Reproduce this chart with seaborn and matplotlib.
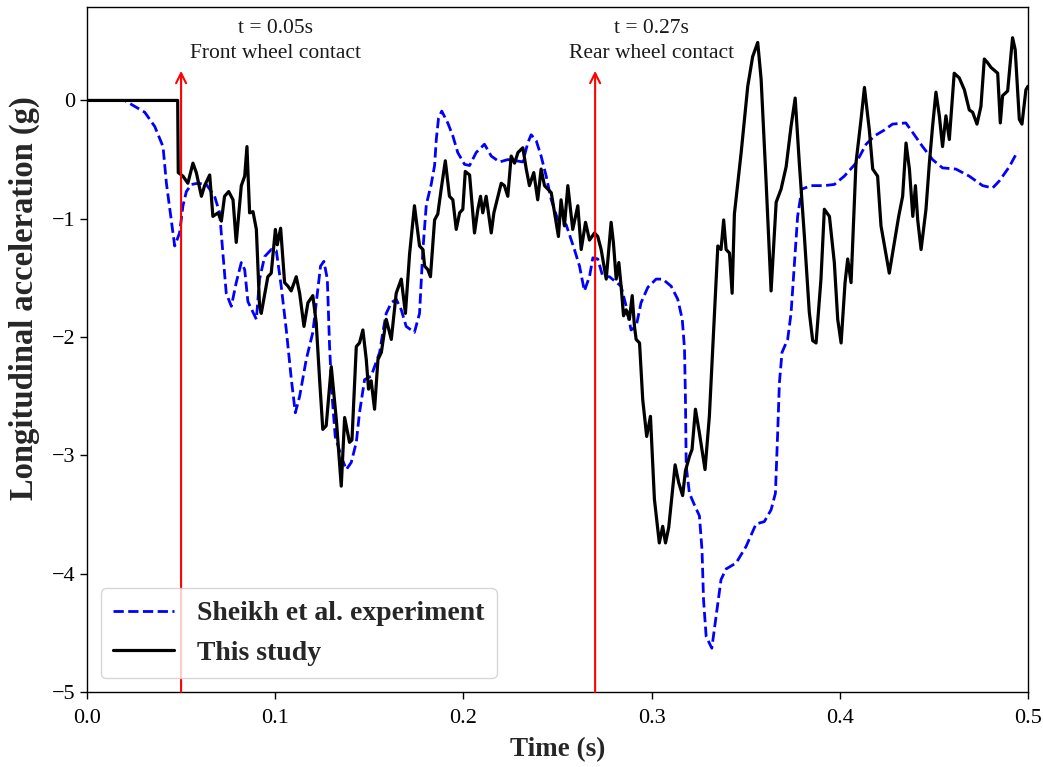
import numpy as np
import pandas as pd
import matplotlib
matplotlib.use("Agg")
import matplotlib.pyplot as plt
import seaborn as sns

# ---- data ----
study_t = [0.0, 0.0482, 0.0485, 0.051, 0.0536, 0.0563, 0.0581, 0.0608, 0.0625, 0.0652,
           0.0669, 0.0696, 0.0714, 0.0731, 0.0753, 0.0776, 0.0793, 0.082, 0.0838, 0.085,
           0.0864, 0.0882, 0.09, 0.0917, 0.0926, 0.0961, 0.0979, 0.1001, 0.1011, 0.1029,
           0.105, 0.1068, 0.1085, 0.1112, 0.113, 0.1153, 0.1174, 0.12, 0.1218, 0.1236,
           0.1253, 0.1271, 0.1298, 0.1325, 0.1351, 0.1369, 0.1395, 0.1408, 0.1431, 0.1448,
           0.1466, 0.1484, 0.1496, 0.151, 0.1528, 0.1546, 0.1564, 0.159, 0.1617, 0.1643,
           0.167, 0.1692, 0.1714, 0.174, 0.1767, 0.1785, 0.1794, 0.1811, 0.1825, 0.1847,
           0.1864, 0.1882, 0.1904, 0.1926, 0.1944, 0.1962, 0.198, 0.1997, 0.201, 0.2033,
           0.2059, 0.2077, 0.2091, 0.2103, 0.2121, 0.2148, 0.2162, 0.2201, 0.2218, 0.2236,
           0.2254, 0.2272, 0.229, 0.2316, 0.2334, 0.2351, 0.2374, 0.2395, 0.2413, 0.2431,
           0.2467, 0.2505, 0.2519, 0.2537, 0.2555, 0.2581, 0.2608, 0.2626, 0.2649, 0.267,
           0.2697, 0.2714, 0.2732, 0.2759, 0.2785, 0.2797, 0.2812, 0.2826, 0.2838, 0.2851,
           0.2865, 0.2882, 0.2897, 0.2909, 0.2918, 0.2936, 0.2953, 0.2974, 0.2994, 0.3015,
           0.3041, 0.3059, 0.3074, 0.3091, 0.3125, 0.3144, 0.3165, 0.318, 0.3201, 0.3215,
           0.3233, 0.3254, 0.3284, 0.3307, 0.3329, 0.3352, 0.3369, 0.3383, 0.3396, 0.3414,
           0.3428, 0.344, 0.3476, 0.3511, 0.3537, 0.3564, 0.3582, 0.3608, 0.3635, 0.3662,
           0.3688, 0.3715, 0.3741, 0.3763, 0.3785, 0.3812, 0.3838, 0.3856, 0.3874, 0.39,
           0.3918, 0.3945, 0.3971, 0.3989, 0.4007, 0.4028, 0.4042, 0.406, 0.4086, 0.4113,
           0.4131, 0.4157, 0.4175, 0.4201, 0.4219, 0.4263, 0.429, 0.4313, 0.4334, 0.4352,
           0.437, 0.4388, 0.4402, 0.4414, 0.4432, 0.4458, 0.4476, 0.4493, 0.4511, 0.4529,
           0.4546, 0.4564, 0.4582, 0.4608, 0.4635, 0.4662, 0.4688, 0.4706, 0.4729, 0.475,
           0.4768, 0.4785, 0.4803, 0.4839, 0.4853, 0.4865, 0.4892, 0.4918, 0.4932, 0.4954,
           0.4968, 0.4989, 0.5]
study_g = [0.0, 0.0, -0.61, -0.64, -0.70, -0.53, -0.61, -0.81, -0.72, -0.63,
           -0.98, -0.95, -1.02, -0.81, -0.77, -0.84, -1.20, -0.72, -0.64, -0.39,
           -0.95, -0.94, -1.09, -1.74, -1.80, -1.49, -1.46, -1.09, -1.22, -1.08,
           -1.54, -1.57, -1.61, -1.49, -1.63, -1.91, -1.71, -1.65, -1.88, -2.36,
           -2.78, -2.75, -2.25, -2.70, -3.26, -2.68, -2.89, -2.87, -2.08, -2.05,
           -1.94, -2.19, -2.44, -2.37, -2.61, -2.19, -2.13, -1.85, -2.02, -1.63,
           -1.51, -1.80, -1.30, -0.89, -1.23, -1.26, -1.40, -1.43, -1.49, -1.01,
           -0.96, -0.75, -0.51, -0.81, -0.84, -1.09, -0.95, -0.92, -0.60, -0.63,
           -1.12, -0.92, -0.81, -0.95, -0.81, -1.12, -0.95, -0.70, -0.72, -0.81,
           -0.47, -0.53, -0.44, -0.40, -0.58, -0.72, -0.61, -0.84, -0.58, -0.72,
           -0.78, -1.15, -0.84, -1.06, -0.72, -1.09, -0.89, -1.26, -1.03, -1.18,
           -1.12, -1.15, -1.26, -1.51, -1.03, -1.20, -1.51, -1.37, -1.57, -1.82,
           -1.77, -1.85, -1.65, -1.91, -2.02, -2.05, -2.53, -2.84, -2.67, -3.37,
           -3.74, -3.60, -3.74, -3.61, -3.08, -3.23, -3.34, -3.13, -3.01, -2.95,
           -2.61, -2.81, -3.12, -2.67, -1.96, -1.23, -1.26, -1.01, -1.26, -1.29,
           -1.63, -0.96, -0.44, 0.12, 0.37, 0.49, 0.18, -0.67, -1.61, -0.86,
           -0.75, -0.56, -0.22, 0.02, -0.53, -1.15, -1.79, -2.03, -2.05, -1.51,
           -0.92, -0.98, -1.37, -1.85, -2.05, -1.54, -1.34, -1.54, -0.53, -0.16,
           0.11, -0.25, -0.58, -0.64, -1.06, -1.46, -1.20, -0.98, -0.81, -0.36,
           -0.58, -0.98, -0.72, -1.01, -1.26, -0.92, -0.53, -0.22, 0.07, -0.13,
           -0.39, -0.13, -0.33, 0.23, 0.19, 0.09, -0.08, -0.10, -0.20, -0.05,
           0.35, 0.32, 0.28, 0.23, -0.19, 0.04, 0.08, 0.53, 0.43, -0.16,
           -0.20, 0.09, 0.12]

exp_t = [0.0, 0.02, 0.0307, 0.036, 0.0404, 0.0422, 0.0445, 0.0466, 0.0492, 0.051,
         0.0528, 0.0555, 0.059, 0.0634, 0.0678, 0.0705, 0.0722, 0.074, 0.0767, 0.0793,
         0.082, 0.0838, 0.0855, 0.09, 0.0917, 0.0944, 0.0979, 0.1006, 0.1032, 0.1059,
         0.1086, 0.1107, 0.113, 0.1165, 0.12, 0.1224, 0.1241, 0.1259, 0.1277, 0.1289,
         0.1301, 0.1319, 0.1351, 0.1378, 0.1404, 0.1431, 0.1448, 0.1475, 0.151, 0.1555,
         0.1572, 0.159, 0.1617, 0.1643, 0.167, 0.1696, 0.174, 0.1767, 0.1785, 0.1803,
         0.1829, 0.1847, 0.1856, 0.1868, 0.1885, 0.1917, 0.1944, 0.197, 0.2006, 0.2033,
         0.2068, 0.2112, 0.2148, 0.2192, 0.2236, 0.2281, 0.2316, 0.2342, 0.236, 0.2387,
         0.2413, 0.244, 0.2467, 0.2502, 0.2546, 0.259, 0.2617, 0.2643, 0.267, 0.2688,
         0.2714, 0.2741, 0.2776, 0.2838, 0.2865, 0.2891, 0.2918, 0.2944, 0.298, 0.3024,
         0.3059, 0.3104, 0.3139, 0.3163, 0.3175, 0.318, 0.3184, 0.3201, 0.3228, 0.3254,
         0.3268, 0.3276, 0.329, 0.332, 0.3343, 0.3369, 0.3396, 0.3449, 0.3502, 0.3555,
         0.3599, 0.3635, 0.3658, 0.367, 0.3679, 0.3693, 0.3723, 0.3741, 0.3759, 0.3776,
         0.3798, 0.3847, 0.3918, 0.3971, 0.4024, 0.4086, 0.414, 0.4184, 0.4237, 0.428,
         0.4351, 0.4387, 0.444, 0.4493, 0.4546, 0.4617, 0.4688, 0.4759, 0.4812, 0.4848,
         0.4901, 0.4945]
exp_g = [0.0, 0.0, -0.10, -0.22, -0.39, -0.70, -0.98, -1.23, -1.12, -0.89,
         -0.77, -0.71, -0.70, -0.71, -0.81, -0.95, -1.29, -1.63, -1.74, -1.54,
         -1.37, -1.43, -1.70, -1.85, -1.51, -1.32, -1.26, -1.27, -1.57, -1.94,
         -2.36, -2.64, -2.50, -2.19, -1.96, -1.63, -1.40, -1.36, -1.51, -2.08,
         -2.47, -2.84, -3.01, -3.12, -3.06, -2.89, -2.64, -2.36, -2.33, -2.13,
         -1.96, -1.80, -1.71, -1.68, -1.77, -1.91, -1.96, -1.80, -1.26, -0.88,
         -0.71, -0.55, -0.33, -0.15, -0.09, -0.19, -0.30, -0.44, -0.54, -0.55,
         -0.44, -0.37, -0.47, -0.52, -0.50, -0.51, -0.52, -0.36, -0.29, -0.34,
         -0.47, -0.64, -0.84, -1.01, -1.05, -1.26, -1.40, -1.61, -1.49, -1.33,
         -1.34, -1.49, -1.49, -1.57, -1.74, -1.94, -1.91, -1.71, -1.58, -1.51,
         -1.51, -1.57, -1.68, -1.85, -2.10, -2.53, -3.09, -3.32, -3.42, -3.51,
         -3.80, -4.22, -4.53, -4.63, -4.36, -4.05, -3.96, -3.91, -3.77, -3.58,
         -3.56, -3.46, -3.32, -2.81, -2.39, -2.13, -2.02, -1.80, -1.38, -0.98,
         -0.75, -0.72, -0.72, -0.71, -0.64, -0.53, -0.37, -0.30, -0.25, -0.20,
         -0.19, -0.27, -0.39, -0.50, -0.57, -0.58, -0.64, -0.72, -0.74, -0.68,
         -0.56, -0.43]

series_names = ["Sheikh et al. experiment", "This study"]
contact_times = [0.05, 0.27]
contact_text_x = [0.10, 0.30]
contact_labels = ["t = 0.05s\nFront wheel contact", "t = 0.27s\nRear wheel contact"]
x_ticks = [0.0, 0.1, 0.2, 0.3, 0.4, 0.5]
y_ticks = [0, -1, -2, -3, -4, -5]

# ---- style ----
sns.set_style("ticks")
plt.rcParams["font.family"] = ["Liberation Serif", "DejaVu Serif"]
plt.rcParams["axes.edgecolor"] = "black"
plt.rcParams["xtick.color"] = "black"
plt.rcParams["ytick.color"] = "black"
plt.rcParams["axes.linewidth"] = 1.0

fig = plt.figure(figsize=(10.43, 7.67), dpi=100)
ax = fig.add_axes([0.0834, 0.0978, 0.9022, 0.8931])

df_exp = pd.DataFrame({"t": exp_t, "g": exp_g})
df_study = pd.DataFrame({"t": study_t, "g": study_g})

sns.lineplot(data=df_exp, x="t", y="g", ax=ax, color="#0000ff", lw=2.0,
             linestyle="--", estimator=None, sort=False, label=series_names[0])
sns.lineplot(data=df_study, x="t", y="g", ax=ax, color="black", lw=2.3,
             estimator=None, sort=False, label=series_names[1])

for tc, tx, lab in zip(contact_times, contact_text_x, contact_labels):
    ax.annotate("", xy=(tc, 0.25), xytext=(tc, -5.0),
                arrowprops=dict(arrowstyle="->", color="red", lw=1.5,
                                mutation_scale=18, shrinkA=0, shrinkB=0))
    ax.text(tx, 0.50, lab, ha="center", va="center", fontsize=15.5,
            color="#1a1a1a", linespacing=1.45)

ax.set_xlim(0.0, 0.5)
ax.set_ylim(-5.0, 0.79)
ax.set_xticks(x_ticks)
ax.set_yticks(y_ticks)
ax.set_xticklabels([f"{v:.1f}" for v in x_ticks])
ax.set_yticklabels(["0" if v == 0 else "\u2212" + str(abs(v)) for v in y_ticks])
ax.tick_params(axis="both", labelsize=16, length=5, width=1.0, direction="out")
ax.tick_params(axis="x", pad=7)

ax.set_xlabel("Time (s)", fontsize=19.5, fontweight="bold", labelpad=7)
ax.set_ylabel("Longitudinal acceleration (g)", fontsize=23.5, fontweight="bold")
ax.yaxis.set_label_coords(-0.05, 0.575)

leg = ax.legend(loc="lower left", prop={"size": 20, "weight": "bold"},
                handlelength=2.2, frameon=True, fancybox=True, borderpad=0.45,
                labelspacing=0.5)
leg.get_frame().set_edgecolor("#cccccc")

fig.savefig("out.png", dpi=100)
